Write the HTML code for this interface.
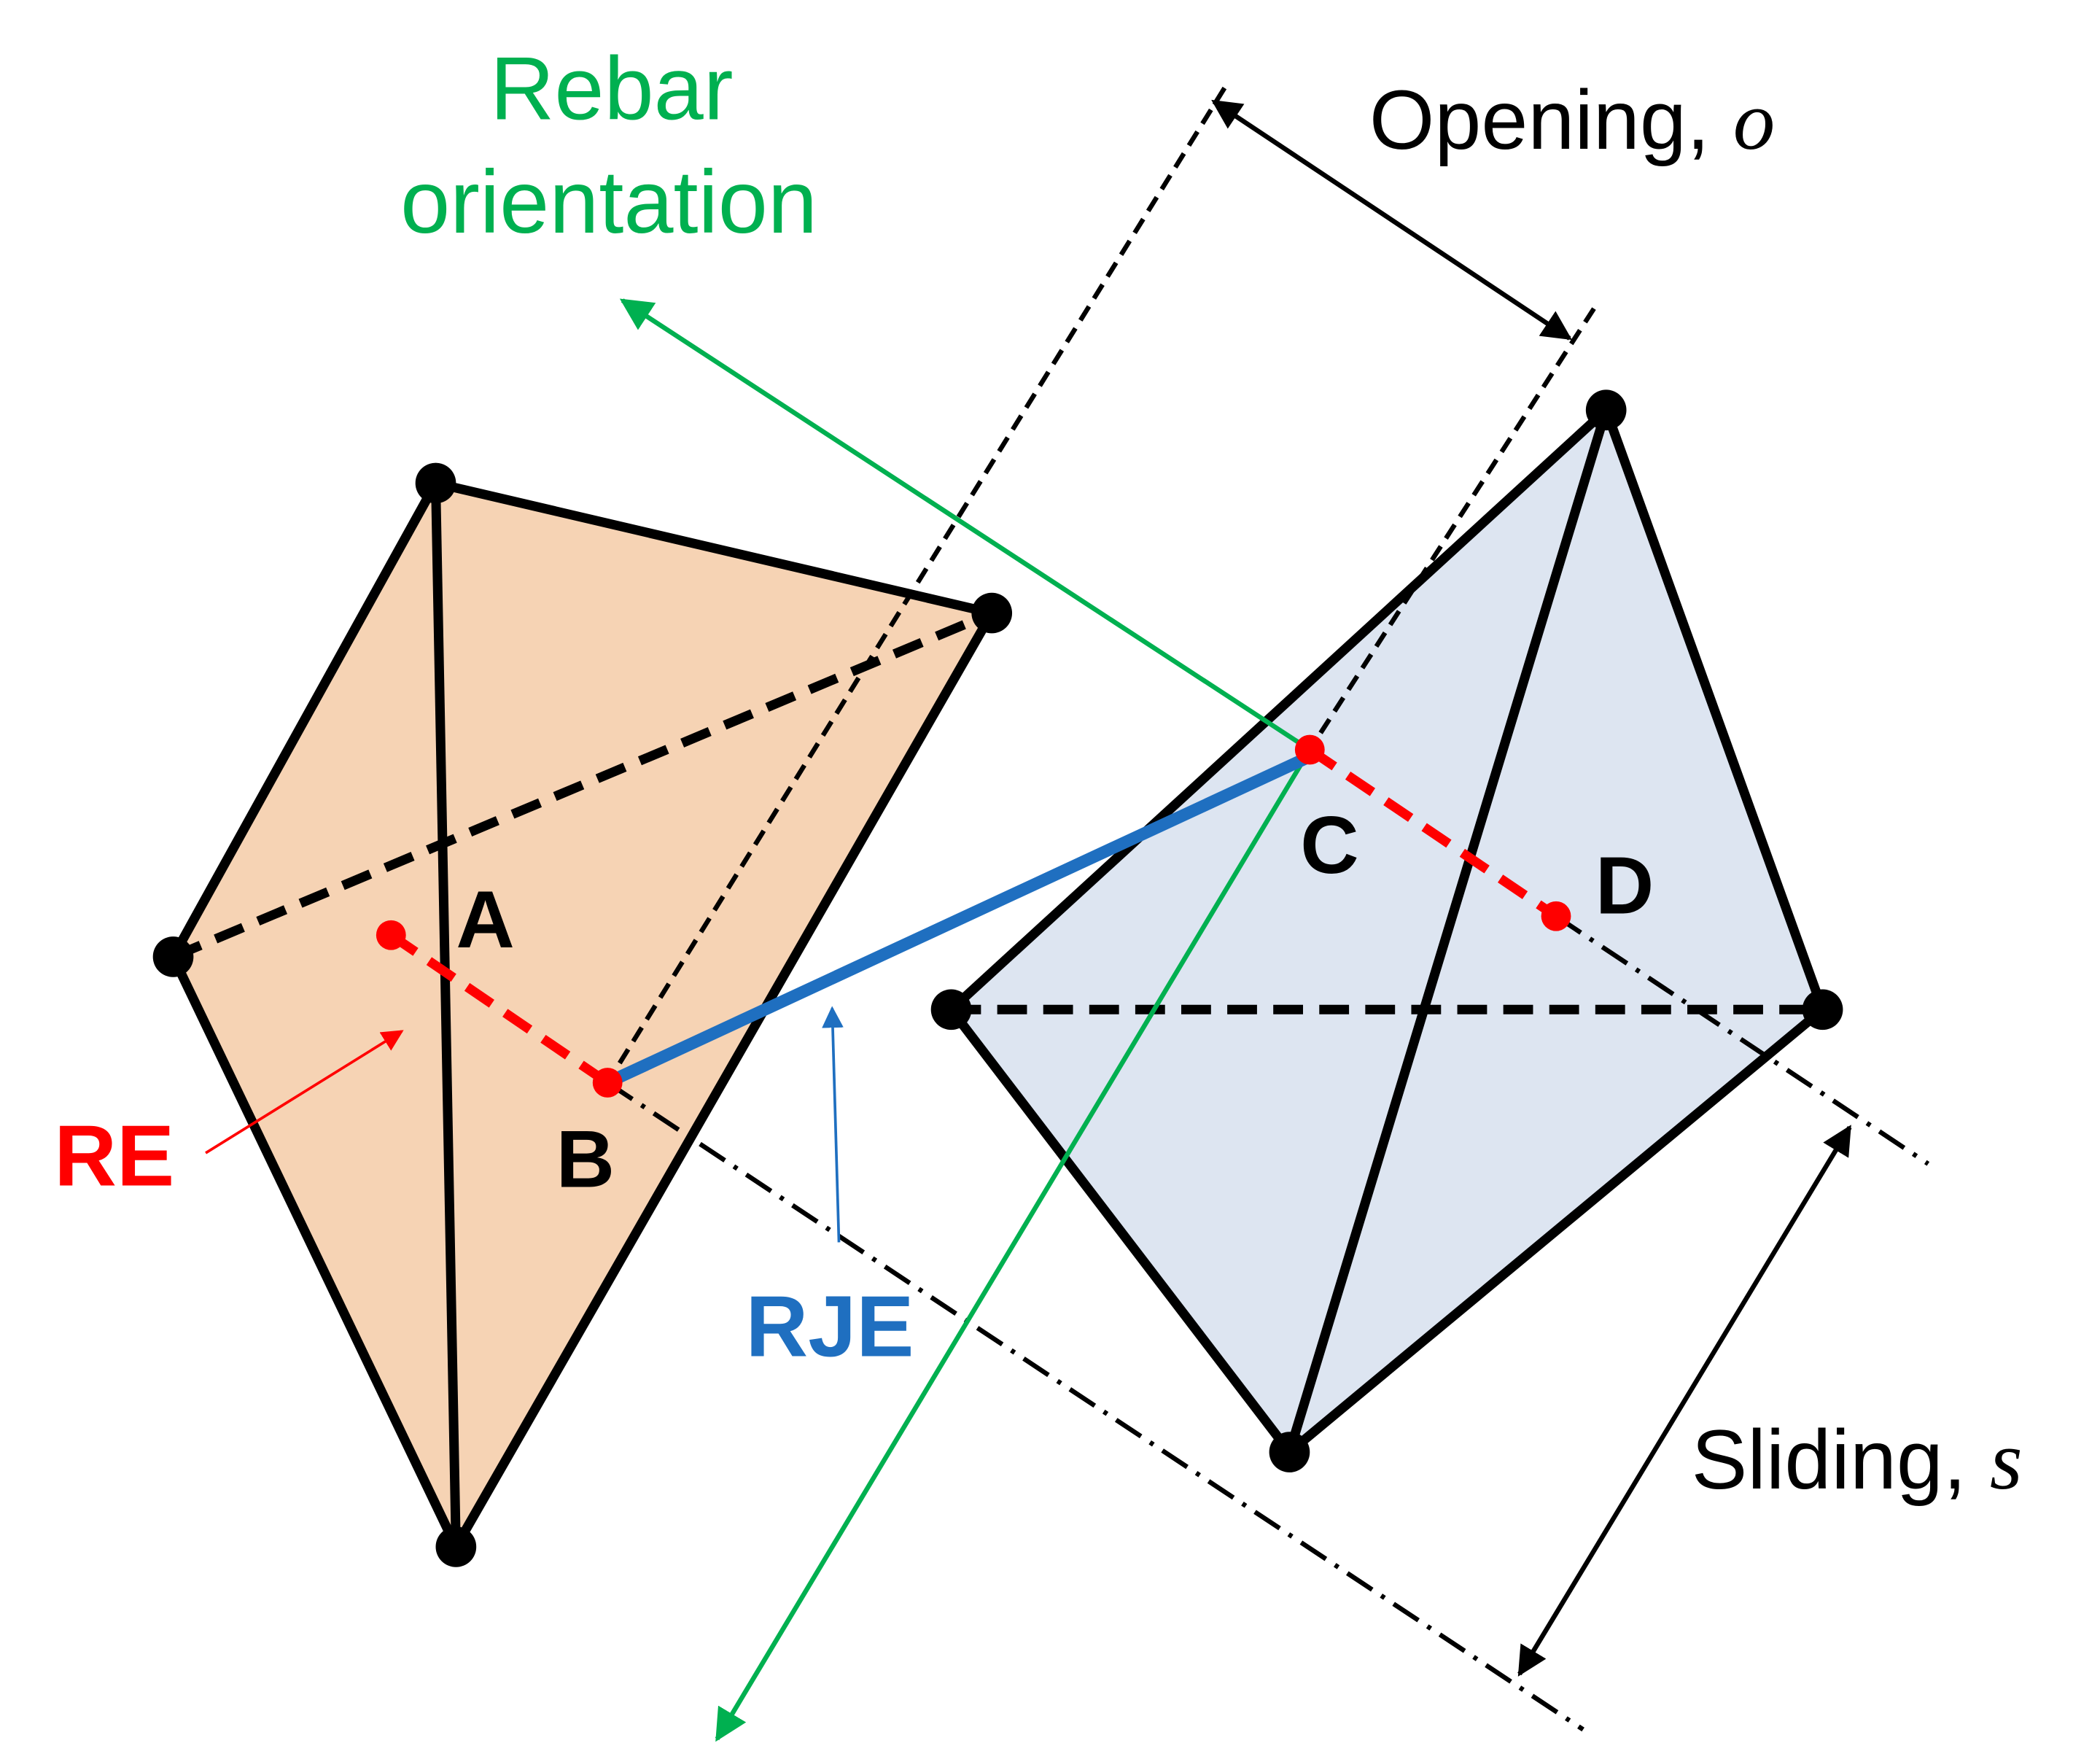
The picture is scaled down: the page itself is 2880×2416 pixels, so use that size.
<!DOCTYPE html>
<html><head><meta charset="utf-8"><style>
html,body{margin:0;padding:0;background:#fff;width:2880px;height:2416px;overflow:hidden}
svg{display:block}
text{font-family:"Liberation Sans",Arial,sans-serif}
</style></head><body>
<svg width="2880" height="2416" viewBox="0 0 1552 1302" preserveAspectRatio="none" xmlns="http://www.w3.org/2000/svg">
<defs>
<marker id="ag" viewBox="0 0 10 10" refX="9" refY="5" markerWidth="24" markerHeight="24" orient="auto" markerUnits="userSpaceOnUse"><path d="M0,0L10,5L0,10z" fill="#00b050"/></marker>
<marker id="ar" viewBox="0 0 10 10" refX="9" refY="5" markerWidth="16" markerHeight="16" orient="auto" markerUnits="userSpaceOnUse"><path d="M0,0L10,5L0,10z" fill="#ff0000"/></marker>
<marker id="abl" viewBox="0 0 10 10" refX="9" refY="5" markerWidth="16" markerHeight="16" orient="auto" markerUnits="userSpaceOnUse"><path d="M0,0L10,5L0,10z" fill="#1f6fc0"/></marker>
<marker id="ak" viewBox="0 0 10 10" refX="9" refY="5" markerWidth="22" markerHeight="22" orient="auto-start-reverse" markerUnits="userSpaceOnUse"><path d="M0,0L10,5L0,10z" fill="#000"/></marker>
</defs>
<polygon points="322,357 733,453 337,1143 128,707" fill="#f6d3b4"/>
<polygon points="1187,303 1347,746 953,1073 703,746" fill="#dde5f1"/>
<line x1="905" y1="65" x2="449" y2="800" stroke="#000" stroke-width="3.5" stroke-dasharray="12,7"/>
<line x1="1178" y1="228" x2="968" y2="554" stroke="#000" stroke-width="3.5" stroke-dasharray="12,7"/>
<line x1="449" y1="800" x2="1170" y2="1278" stroke="#000" stroke-width="3.5" stroke-dasharray="22,8,3,8"/>
<line x1="1150" y1="677" x2="1425" y2="860" stroke="#000" stroke-width="3.5" stroke-dasharray="22,8,3,8"/>
<g stroke="#000" stroke-width="7" fill="none" stroke-linejoin="round">
<polygon points="322,357 733,453 337,1143 128,707"/>
<line x1="322" y1="357" x2="337" y2="1143"/>
<line x1="128" y1="707" x2="733" y2="453" stroke-dasharray="22,12"/>
<polygon points="1187,303 1347,746 953,1073 703,746"/>
<line x1="1187" y1="303" x2="953" y2="1073"/>
<line x1="703" y1="746" x2="1347" y2="746" stroke-dasharray="22,12"/>
</g>
<g fill="#000">
<circle cx="322" cy="357" r="15"/><circle cx="733" cy="453" r="15"/><circle cx="337" cy="1143" r="15"/><circle cx="128" cy="707" r="15"/>
<circle cx="1187" cy="303" r="15"/><circle cx="1347" cy="746" r="15"/><circle cx="953" cy="1073" r="15"/><circle cx="703" cy="746" r="15"/>
</g>
<line x1="968" y1="554" x2="460" y2="222" stroke="#00b050" stroke-width="3.5" marker-end="url(#ag)"/>
<line x1="968" y1="554" x2="530" y2="1285" stroke="#00b050" stroke-width="3.5" marker-end="url(#ag)"/>
<line x1="449" y1="800" x2="968" y2="559" stroke="#1f6fc0" stroke-width="9"/>
<line x1="289" y1="691" x2="449" y2="800" stroke="#ff0000" stroke-width="7" stroke-dasharray="22,12"/>
<line x1="968" y1="554" x2="1150" y2="677" stroke="#ff0000" stroke-width="7" stroke-dasharray="22,12"/>
<g fill="#ff0000"><circle cx="289" cy="691" r="11"/><circle cx="449" cy="800" r="11"/><circle cx="968" cy="554" r="11"/><circle cx="1150" cy="677" r="11"/></g>
<line x1="152" y1="852" x2="297" y2="762" stroke="#ff0000" stroke-width="2" marker-end="url(#ar)"/>
<line x1="620" y1="918" x2="615" y2="745" stroke="#1f6fc0" stroke-width="2" marker-end="url(#abl)"/>
<line x1="897" y1="75" x2="1160" y2="250" stroke="#000" stroke-width="3.5" marker-start="url(#ak)" marker-end="url(#ak)"/>
<line x1="1367" y1="833" x2="1123" y2="1237" stroke="#000" stroke-width="3.5" marker-start="url(#ak)" marker-end="url(#ak)"/>
<g font-size="66" fill="#00b050" text-anchor="middle">
<text x="452" y="88">Rebar</text><text x="450" y="172">orientation</text></g>
<text x="1012" y="110" font-size="62" fill="#000">Opening, <tspan font-family="Liberation Serif,serif" font-style="italic">o</tspan></text>
<text x="1250" y="1100" font-size="62" fill="#000">Sliding, <tspan font-family="Liberation Serif,serif" font-style="italic">s</tspan></text>
<g font-size="60" font-weight="bold" fill="#000">
<text x="337" y="700">A</text><text x="411" y="877">B</text><text x="961" y="645">C</text><text x="1179" y="675">D</text></g>
<text x="40" y="876" font-size="64" font-weight="bold" fill="#ff0000">RE</text>
<text x="551" y="1002" font-size="64" font-weight="bold" fill="#1f6fc0">RJE</text>
</svg>
</body></html>
